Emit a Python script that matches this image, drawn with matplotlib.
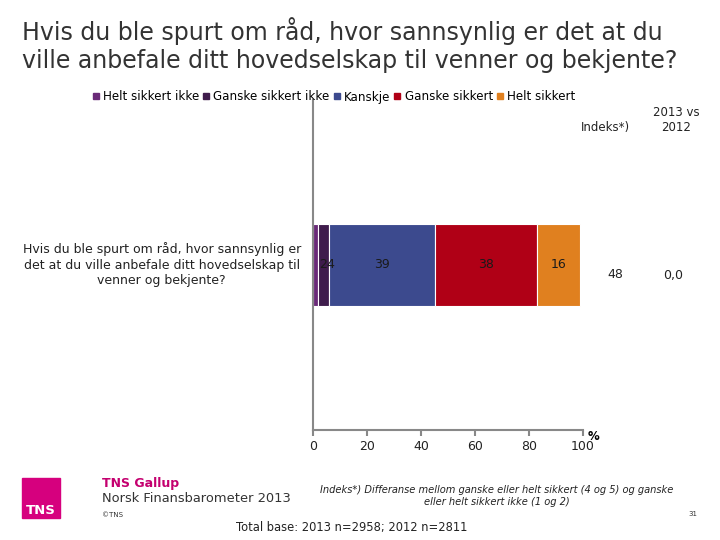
import matplotlib.pyplot as plt
from matplotlib.lines import Line2D
from matplotlib.patches import Rectangle

plt.rcParams['font.family'] = ['DejaVu Sans']

# data
categories = ["Hvis du ble spurt om råd, hvor sannsynlig er\ndet at du ville anbefale ditt hovedselskap til\nvenner og bekjente?"]
series_names = ["Helt sikkert ikke", "Ganske sikkert ikke", "Kanskje", "Ganske sikkert", "Helt sikkert"]
series_values = [2, 4, 39, 38, 16]
colors = ["#6a2a78", "#3f1c4c", "#3c4a8e", "#b00016", "#e0801f"]
indeks = ["48"]
change = ["0,0"]
xticks = [0, 20, 40, 60, 80, 100]

fig = plt.figure(figsize=(7.2, 5.4), dpi=100)
ax = fig.add_axes([313 / 720, 1 - 430 / 540, 270 / 720, 330 / 540])

left = 0
for name, v, c in zip(series_names, series_values, colors):
    ax.barh(0, v, left=left, height=0.25, color=c, edgecolor="white", linewidth=0.8, label=name)
    cx = left + v / 2
    if v < 5:
        ax.annotate(str(v), (cx, 0), xytext=(5, 0), textcoords="offset points",
                    ha="center", va="center", fontsize=9, color="#1a1a1a")
    else:
        ax.text(cx, 0, str(v), ha="center", va="center", fontsize=9, color="#1a1a1a")
    left += v

ax.set_xlim(0, 100)
ax.set_ylim(-0.5, 0.5)
ax.set_yticks([])
ax.set_xticks(xticks)
ax.set_xticklabels([str(t) for t in xticks], fontsize=9)
ax.tick_params(axis="x", colors="#888888", labelcolor="#222222", length=4, width=1.5)
for s in ["top", "right"]:
    ax.spines[s].set_visible(False)
for s in ["left", "bottom"]:
    ax.spines[s].set_color("#888888")
    ax.spines[s].set_linewidth(1.5)

# category label
ax.text(-0.045, 0.5, categories[0], transform=ax.transAxes, ha="right", va="center",
        fontsize=9, multialignment="center", linespacing=1.25, color="#222222")

# percent sign
fig.text(593 / 720, 1 - 436 / 540, "%", ha="center", va="center", fontsize=8.5, fontweight="bold")

# right-hand columns
fig.text(605 / 720, 1 - 127 / 540, "Indeks*)", ha="center", va="center", fontsize=8.5, color="#222222")
fig.text(676 / 720, 1 - 120 / 540, "2013 vs\n2012", ha="center", va="center", fontsize=8.5,
         color="#222222", linespacing=1.2)
fig.text(615 / 720, 1 - 275 / 540, indeks[0], ha="center", va="center", fontsize=9, color="#222222")
fig.text(673 / 720, 1 - 275 / 540, change[0], ha="center", va="center", fontsize=9, color="#222222")

# title
fig.text(22 / 720, 1 - 17 / 540,
         "Hvis du ble spurt om råd, hvor sannsynlig er det at du\nville anbefale ditt hovedselskap til venner og bekjente?",
         ha="left", va="top", fontsize=17, color="#333333", linespacing=1.2)

# legend
handles = [Line2D([], [], marker="s", linestyle="", markersize=4, color=c) for c in colors]
fig.legend(handles, series_names, loc="center left", bbox_to_anchor=(92 / 720, 1 - 97 / 540),
           ncol=5, frameon=False, fontsize=8.6, handlelength=0.6, handletextpad=0.3,
           columnspacing=0.3, borderpad=0, borderaxespad=0)

# footer
fig.patches.append(Rectangle((22 / 720, 1 - 518 / 540), 38 / 720, 40 / 540,
                             transform=fig.transFigure, color="#d6007e"))
fig.text(26 / 720, 1 - 510 / 540, "TNS", ha="left", va="center", fontsize=9.5,
         fontweight="bold", color="white")
fig.text(102 / 720, 1 - 483 / 540, "TNS Gallup", ha="left", va="center", fontsize=9,
         fontweight="bold", color="#c4006f")
fig.text(102 / 720, 1 - 498 / 540, "Norsk Finansbarometer 2013", ha="left", va="center",
         fontsize=9.4, color="#333333")
fig.text(102 / 720, 1 - 515 / 540, "©TNS", ha="left", va="center", fontsize=5, color="#333333")
fig.text(497 / 720, 1 - 496 / 540,
         "Indeks*) Differanse mellom ganske eller helt sikkert (4 og 5) og ganske\neller helt sikkert ikke (1 og 2)",
         ha="center", va="center", fontsize=7.1, style="italic", color="#222222", linespacing=1.2)
fig.text(693 / 720, 1 - 514 / 540, "31", ha="center", va="center", fontsize=5, color="#333333")
fig.text(352 / 720, 1 - 527 / 540, "Total base: 2013 n=2958; 2012 n=2811", ha="center",
         va="center", fontsize=8.3, color="#222222")

fig.savefig("out.png", dpi=100)
